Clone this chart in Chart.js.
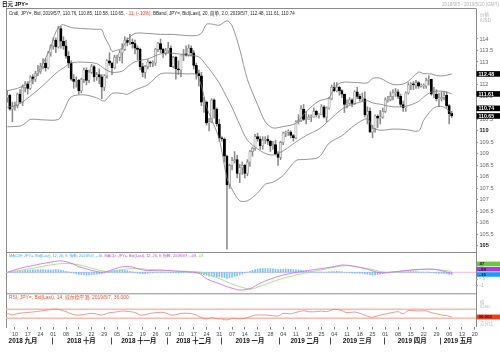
<!DOCTYPE html>
<html><head><meta charset="utf-8">
<script src="https://cdn.jsdelivr.net/npm/chart.js@4.4.1/dist/chart.umd.min.js"></script>
<style>
html,body{margin:0;padding:0;background:#fff;}
#wrap{position:relative;width:500px;height:352px;overflow:hidden;background:#fff;}
canvas{position:absolute;left:0;top:0;}
</style></head>
<body><div id="wrap">
<canvas id="cMain" width="500" height="352"></canvas>
<canvas id="cMacd" width="500" height="352"></canvas>
<canvas id="cRsi" width="500" height="352"></canvas>
</div>
<script>
// ---------------- DATA ----------------
const startDate = '2018-09-05', endDate = '2019-05-20';
function weekdays(a, b) {
  const out = []; let d = new Date(a + 'T00:00:00Z'); const e = new Date(b + 'T00:00:00Z');
  while (d <= e) { const w = d.getUTCDay(); if (w > 0 && w < 6) out.push(d.toISOString().slice(0, 10)); d = new Date(d.getTime() + 86400000); }
  return out;
}
const categories = weekdays(startDate, endDate);

const opens = [111.45,111.55,110.95,111.05,111.10,111.60,111.25,111.90,112.05,111.85,
112.35,112.25,112.50,112.60,112.80,112.95,112.75,113.40,113.70,113.95,
113.65,114.45,113.90,113.70,113.25,112.95,112.25,112.15,112.20,111.75,
112.25,112.65,112.20,112.55,112.80,112.35,112.45,112.35,111.90,112.40,
113.05,112.95,112.75,113.20,113.20,113.40,113.55,113.95,113.85,113.85,
113.80,113.60,113.55,112.80,112.55,112.80,113.00,112.95,112.95,113.55,
113.80,113.55,113.40,113.50,113.60,112.80,113.20,112.70,112.65,113.30,
113.35,113.30,113.60,113.40,112.85,112.50,112.40,111.25,111.25,110.35,
110.40,111.35,110.95,110.30,109.70,109.65,108.90,107.65,108.50,108.70,
108.75,108.15,108.40,108.50,108.15,108.65,109.10,109.25,109.75,109.65,
109.35,109.60,109.65,109.55,109.35,109.40,109.00,108.85,109.50,109.90,
109.95,109.95,109.80,109.70,110.40,110.45,110.95,110.50,110.50,110.60,
110.60,110.85,110.70,110.70,111.05,110.60,111.00,111.40,111.90,111.75,
111.90,111.75,111.60,111.15,111.20,111.35,111.20,111.70,111.50,111.40,
111.40,110.70,110.85,109.95,110.10,110.65,110.55,110.60,110.85,111.35,
111.35,111.50,111.65,111.70,111.50,111.15,111.00,111.65,112.00,112.05,
112.00,112.10,111.95,111.95,111.95,112.20,112.25,111.60,111.60,111.40,
111.40,111.45,111.55,111.10,110.76];
const highs = [111.75,111.60,111.25,111.25,111.65,111.80,112.00,112.15,112.15,112.40,
112.45,112.60,112.85,112.95,113.15,113.15,113.45,113.75,114.05,114.05,
114.55,114.55,114.10,113.95,113.45,113.05,112.45,112.35,112.25,112.30,
112.75,112.75,112.65,112.90,112.85,112.55,112.70,112.45,112.45,113.10,
113.40,113.00,113.30,113.30,113.50,113.80,114.10,114.05,114.20,114.00,
113.95,113.70,113.60,112.95,112.85,113.10,113.05,113.05,113.60,113.85,
114.00,113.60,113.60,113.85,113.70,113.25,113.25,113.05,113.30,113.55,
113.70,113.75,113.70,113.50,112.95,112.65,112.55,111.45,111.30,110.55,
111.40,111.40,111.00,110.50,109.75,109.70,108.95,108.55,108.85,109.10,
108.95,108.55,108.65,108.55,108.75,109.15,109.30,109.85,109.90,109.75,
109.75,109.75,109.80,109.60,109.55,109.60,109.10,109.55,109.95,110.00,
110.05,110.00,109.85,110.45,110.70,111.10,111.15,110.85,110.70,110.70,
111.00,110.90,110.75,111.15,111.10,111.05,111.45,112.00,112.10,112.10,
111.95,111.80,111.60,111.35,111.45,111.40,111.75,111.90,111.60,111.65,
111.70,111.05,111.00,110.25,110.70,110.70,110.90,111.00,111.45,111.50,
111.70,111.80,111.85,111.80,111.60,111.30,111.70,112.10,112.10,112.15,
112.20,112.15,112.05,112.05,112.30,112.40,112.25,111.90,111.80,111.65,
111.70,111.70,111.70,111.15,110.85];
const lows = [111.25,110.90,110.40,110.90,111.00,111.20,111.10,111.70,111.60,111.80,
112.05,112.15,112.40,112.50,112.70,112.60,112.70,113.25,113.55,113.40,
113.60,113.60,113.55,113.15,112.75,112.20,111.85,111.90,111.60,111.65,
112.10,112.00,112.10,112.50,112.15,112.20,112.05,111.40,111.75,112.30,
112.85,112.45,112.70,112.95,113.05,112.95,113.50,113.70,113.75,113.60,
113.35,113.10,112.65,112.35,112.30,112.70,112.80,112.80,112.85,113.45,
113.40,113.20,113.30,113.40,112.80,112.75,112.25,112.45,112.35,113.05,
113.25,113.25,113.25,112.70,112.25,111.95,111.10,110.80,110.25,110.00,
110.35,110.55,110.20,109.55,109.55,108.65,104.85,107.50,108.30,108.60,
107.95,107.75,108.10,107.95,108.05,108.45,108.90,109.15,109.55,109.20,
109.20,109.45,109.40,109.10,109.20,108.95,108.50,108.75,109.40,109.75,
109.80,109.70,109.55,109.65,110.30,110.40,110.45,110.30,110.50,110.40,
110.60,110.60,110.55,110.70,110.55,110.40,110.95,111.35,111.70,111.70,
111.55,111.45,110.80,111.00,111.15,111.05,111.15,111.40,111.30,111.30,
110.60,110.30,109.95,109.70,109.95,110.15,110.30,110.55,110.80,111.25,
111.30,111.35,111.50,111.40,111.05,110.85,110.85,111.60,111.80,111.80,
111.85,111.85,111.90,111.85,111.85,112.00,111.55,111.45,111.30,111.05,
111.30,111.35,111.00,110.30,110.58];
const closes = [111.55,110.95,111.05,111.10,111.60,111.25,111.90,112.05,111.85,112.35,
112.25,112.50,112.60,112.80,112.95,112.75,113.40,113.70,113.95,113.65,
114.45,113.90,113.70,113.25,112.95,112.25,112.15,112.20,111.75,112.25,
112.65,112.20,112.55,112.80,112.35,112.45,112.35,111.90,112.40,113.05,
112.95,112.75,113.20,113.20,113.40,113.55,113.95,113.85,113.85,113.80,
113.60,113.55,112.80,112.55,112.80,113.00,112.95,112.95,113.55,113.80,
113.55,113.40,113.50,113.60,112.80,113.20,112.70,112.65,113.30,113.35,
113.30,113.60,113.40,112.85,112.50,112.40,111.25,111.25,110.35,110.40,
111.35,110.95,110.30,109.70,109.65,108.90,107.65,108.50,108.70,108.75,
108.15,108.40,108.50,108.15,108.65,109.10,109.25,109.75,109.65,109.35,
109.60,109.65,109.55,109.35,109.40,109.00,108.85,109.50,109.90,109.95,
109.95,109.80,109.70,110.40,110.45,110.95,110.50,110.50,110.60,110.60,
110.85,110.70,110.70,111.05,110.60,111.00,111.40,111.90,111.75,111.90,
111.75,111.60,111.15,111.20,111.35,111.20,111.70,111.50,111.40,111.40,
110.70,110.85,109.95,110.10,110.65,110.55,110.60,110.85,111.35,111.35,
111.50,111.65,111.70,111.50,111.15,111.00,111.65,112.00,112.05,112.00,
112.10,111.95,111.95,111.95,112.20,112.25,111.60,111.60,111.40,111.40,
111.45,111.55,111.10,110.75,110.65];

// Bollinger band readings [day index, value]
const bbUpper = [[0,111.75],[4,111.85],[8,112.07],[12,112.5],[14,112.94],[17,113.65],[19,114.3],[21,114.6],[22,114.62],[25,114.5],[30,114.45],[35,114.42],[37,114.4],[38,114.12],[40,113.7],[41,113.47],[43,113.52],[45,113.6],[47,113.97],[50,114.24],[55,114.24],[60,114.2],[65,114.2],[70,114.15],[74,114.15],[76,114.25],[78,114.64],[80,114.65],[83,114.6],[86,114.79],[88,114.58],[91,113.55],[94,112.24],[98,111.14],[101,110.4],[104,110.13],[108,110.19],[113,110.33],[117,110.84],[122,111.3],[126,111.45],[128,111.9],[131,112.11],[136,112.11],[141,112.09],[143,112.29],[146,112.29],[151,112.02],[156,112.08],[161,112.56],[163,112.49],[166,112.48],[168,112.41],[171,112.4],[174,112.48]];
const bbMiddle = [[0,111.03],[4,111.13],[10,111.6],[14,111.98],[17,112.3],[20,112.6],[22,112.74],[25,112.96],[30,112.99],[35,112.93],[38,112.71],[41,112.55],[45,112.6],[47,112.78],[50,113.01],[55,113.13],[60,113.35],[65,113.38],[70,113.3],[75,113.22],[78,112.84],[80,112.56],[83,112.08],[86,111.45],[88,111.02],[91,110.27],[94,109.6],[98,109.22],[101,109.02],[104,108.95],[108,109.13],[113,109.52],[117,109.8],[122,110.08],[126,110.46],[131,110.95],[136,111.18],[141,111.31],[143,111.22],[146,111.16],[151,111.05],[156,111.07],[161,111.28],[163,111.48],[166,111.69],[168,111.73],[171,111.72],[174,111.61]];
const bbLower = [[0,110.18],[5,110.21],[7,110.33],[9,110.5],[14,110.48],[20,110.5],[22,110.86],[25,111.48],[30,111.57],[35,111.44],[38,111.3],[41,111.63],[45,111.63],[47,111.59],[50,111.78],[55,112.01],[60,112.48],[65,112.51],[70,112.48],[74,112.45],[76,111.96],[78,111.05],[80,110.5],[83,109.64],[86,107.95],[88,107.46],[91,106.96],[94,106.96],[98,107.3],[101,107.68],[104,107.77],[108,108.06],[113,108.71],[117,108.76],[122,108.86],[126,109.47],[131,109.79],[136,110.25],[141,110.53],[143,110.15],[146,110.03],[151,110.08],[156,110.06],[161,110.0],[163,110.46],[166,110.9],[168,111.05],[171,111.04],[174,110.74]];

// MACD readings
const macdLine = [[0,0],[5,0.3],[10,0.5],[13,0.62],[17,0.75],[20,0.84],[23,0.79],[26,0.6],[28,0.42],[31,0.25],[34,0.1],[37,0.0],[40,0.12],[44,0.37],[48,0.42],[52,0.22],[55,0.12],[60,0.17],[65,0.1],[70,0.05],[75,-0.06],[76,-0.18],[78,-0.48],[82,-0.77],[86,-1.06],[88,-1.18],[91,-1.31],[95,-1.22],[98,-0.9],[102,-0.57],[108,-0.2],[115,0.05],[121,0.22],[128,0.42],[131,0.54],[135,0.47],[141,0.22],[146,-0.03],[152,0.05],[158,0.17],[165,0.24],[169,0.17],[174,-0.09]];
const macdSignal = [[0,0],[5,0.15],[10,0.29],[17,0.55],[23,0.66],[26,0.62],[30,0.47],[36,0.15],[41,0.05],[45,0.2],[49,0.29],[55,0.22],[62,0.12],[70,0.07],[76,0.0],[81,-0.32],[85,-0.62],[89,-0.94],[95,-1.24],[98,-1.1],[102,-0.82],[108,-0.44],[116,-0.08],[124,0.22],[131,0.48],[135,0.47],[142,0.24],[148,0.0],[153,0.05],[161,0.2],[167,0.22],[174,0.07]];
const macdHist = [0,.02,.04,.06, .08,.1,.12,.14,.16,.17,.18, .19,.2,.2,.2,.19,.18,.18,.19,.2,.2,
.16,.12,.08,.03,-.02, -.07,-.12,-.16,-.18,-.2,-.21,-.2, -.18,-.16,-.14,-.12,-.1,
-.04,.02,.07,.12,.15,.17, .18,.17,.15,.12,.08, .03,-.02,-.06,-.09,-.11,-.1,-.08,
-.05,-.02,.01,.03,.04,.03,.02, 0,-.02,-.02,-.03,-.04,-.03,-.02,-.01,0,0,-.02,-.05,-.06,
-.12,-.18,-.24,-.28,-.28,-.3,-.32,-.35,-.36,-.38,-.45,-.42,-.36,-.3,-.25,-.2,-.12,
-.05,.02,.08,.14,.2,.24,.27,.28, .28,.28,.27,.26,.24,.22,.22,.23,.24,.24,
.22,.2,.2,.18,.16,.13,.1,.07,.05,.03, .02,.01,.01,0,.02,.04,.06,.06,.07,.06,.04,
0,-.03,-.05,-.06,-.06,-.07,-.08,-.09,-.12,-.14,-.18,-.2,-.19,-.17,-.14,
-.1,-.06,-.02,.02,.04,.06,.06,.05,.03,.03,.05,.06,.06,.05,
.03,.02,.02,.02,.02,-.02,-.04,-.06,-.08,-.09,-.1,-.12,-.15,-.16];

// RSI readings
const rsiValues = [[0,52],[2,45],[4,51],[7,55],[10,58],[13,62.5],[16,67],[19,71],[21,67],[23,59.5],[25,50],[27,44.7],[28,44],[31,49],[33,52],[35,49],[37,44.7],[40,55],[42,57],[45,62.5],[48,59.5],[50,56],[52,44.7],[54,46],[56,52],[60,56.6],[62,54],[64,44.7],[66,46],[68,52],[72,51],[74,44],[76,33],[78,27],[80,33],[82,28],[84,27],[86,22.5],[88,30],[90,28],[93,30],[95,37.3],[97,44],[100,44.7],[103,43],[106,40.3],[108,52],[111,50],[113,56],[116,64],[118,59],[121,59.5],[123,62],[125,59.5],[128,70],[131,64],[133,55],[136,58],[138,52],[140,44],[142,35],[144,37.3],[146,44],[148,49],[151,56],[153,59.5],[155,50],[157,64],[161,62.5],[164,63],[166,55],[168,50],[170,44.7],[172,42],[174,36]];
const rsiLevels = [70, 30];

const priceTicks = [114,113.5,113,112.5,112,111.5,111,110.5,110,109.5,109,108.5,108,107.5,107,106.5,106,105.5,105];
const macdTicks = [0.5,-0.5,-1];
const monthLabels = ['2018 九月','2018 十月','2018 十一月','2018 十二月','2019 一月','2019 二月','2019 三月','2019 四月','2019 五月'];
const priceBoxValues = [112.48, 111.61, 110.74, 110.65];
const macdBoxValues = [0.07, -0.09, -0.16];
const rsiBoxValue = 36.0;

// ---------------- HELPERS ----------------
const FONT = '"Liberation Sans","Noto Sans CJK SC",sans-serif';
Chart.defaults.font.family = FONT;
const toPts = arr => arr.map(([k, v]) => ({x: categories[k], y: v}));
const isUp = i => closes[i] >= opens[i];

function txt(ctx, s, x, y, size, color, opt) {
  opt = opt || {};
  ctx.font = (opt.bold ? 'bold ' : '') + size + 'px ' + FONT;
  ctx.fillStyle = color; ctx.textAlign = opt.align || 'left'; ctx.textBaseline = 'middle';
  ctx.fillText(s, x, y);
  return ctx.measureText(s).width;
}
function fitSegs(ctx, list, x, y, targetW, base) {
  ctx.font = base + 'px ' + FONT;
  let w = 0; list.forEach(([s]) => w += ctx.measureText(s).width);
  const size = base * targetW / w;
  list.forEach(([s, c]) => { x += txt(ctx, s, x, y, size, c); });
}
function line(ctx, x1, y1, x2, y2, color, w) {
  ctx.save(); ctx.strokeStyle = color; ctx.lineWidth = w || 1;
  ctx.beginPath(); ctx.moveTo(x1, y1); ctx.lineTo(x2, y2); ctx.stroke(); ctx.restore();
}
function drawBoxes(ctx, scale, items, x1, x2, h, gap) {
  const pos = items.map(it => ({...it, y: scale.getPixelForValue(it.v)}));
  pos.sort((a, b) => b.y - a.y);
  for (let i = 1; i < pos.length; i++) pos[i].y = Math.min(pos[i].y, pos[i - 1].y - gap);
  pos.forEach(p => {
    ctx.fillStyle = p.bg; ctx.fillRect(x1, p.y - h / 2, x2 - x1, h);
    txt(ctx, p.text, x1 + 2, p.y + 0.3, p.size, p.fg, {bold: true});
  });
}
const BORDER = '#8c8c8c';

// ---------------- MAIN PRICE PANEL ----------------
const mainDeco = {
  id: 'mainDeco',
  afterDraw(chart) {
    const ctx = chart.ctx, a = chart.chartArea, y = chart.scales.y;
    line(ctx, a.left, 8.5, a.right, 8.5, BORDER);
    line(ctx, a.left + 0.5, 8.5, a.left + 0.5, 328, BORDER);
    line(ctx, a.right + 0.5, 8.5, a.right + 0.5, 327, BORDER);
    line(ctx, a.left, a.bottom + 0.5, a.right, a.bottom + 0.5, BORDER);
    txt(ctx, '日元 JPY=', 2, 4.5, 5.5, '#000', {bold: true});
    txt(ctx, '2018/9/5 - 2019/5/20 (GMT)', 499, 4.5, 4.6, '#b0b0b0', {align: 'right'});
    fitSegs(ctx, [
      ['Cndl, JPY=, Bid, 2019/5/7, 110.76, 110.85, 110.58, 110.65, ', '#222'],
      ['-.11, (-.10%), ', '#e8321e'],
      ['BBand, JPY=, Bid(Last), 20, 简单, 2.0, 2019/5/7, 112.48, 111.61, 110.74', '#222']
    ], 9, 14, 286, 5);
    txt(ctx, '价格', 480, 15, 4.6, '#b0b0b0');
    txt(ctx, '/USD', 480, 21, 4.6, '#b0b0b0');
    drawBoxes(ctx, y, priceBoxValues.map(v => ({v, text: v.toFixed(2), bg: '#000', fg: '#fff', size: 5.2})), a.right + 0.5, 500, 5.6, 7.6);
  }
};

new Chart(document.getElementById('cMain'), {
  type: 'bar',
  data: {
    labels: categories,
    datasets: [
      {type: 'line', label: 'BB上', data: toPts(bbUpper), borderColor: '#7a7a7a', borderWidth: 0.8, pointRadius: 0, tension: 0.3, order: 0},
      {type: 'line', label: 'BB中', data: toPts(bbMiddle), borderColor: '#7a7a7a', borderWidth: 0.8, pointRadius: 0, tension: 0.3, order: 0},
      {type: 'line', label: 'BB下', data: toPts(bbLower), borderColor: '#7a7a7a', borderWidth: 0.8, pointRadius: 0, tension: 0.3, order: 0},
      {label: 'wick', data: lows.map((l, i) => [l, highs[i]]), backgroundColor: '#8a8a8a', barThickness: 0.9, grouped: false, order: 3},
      {label: 'body', data: opens.map((o, i) => [o, closes[i]]), grouped: false, order: 2, barThickness: 2.3, minBarLength: 0.8, borderSkipped: false,
        backgroundColor: c => isUp(c.dataIndex) ? '#e6e6e6' : '#000',
        borderColor: c => isUp(c.dataIndex) ? '#8c8c8c' : '#000', borderWidth: 0.6}
    ]
  },
  options: {
    responsive: false, animation: false, devicePixelRatio: 1,
    layout: {padding: {left: 6, top: 9, bottom: 100, right: 0}},
    plugins: {legend: {display: false}, tooltip: {enabled: false}},
    scales: {
      x: {display: false, offset: true},
      y: {
        position: 'right', min: 104.731, max: 115.305,
        afterFit(s) { s.width = 24; },
        afterBuildTicks(s) { s.ticks = priceTicks.map(v => ({value: v})); },
        ticks: {
          padding: 1.5,
          callback: v => Number.isInteger(v) ? String(v) : v.toFixed(1),
          font: c => ({size: 5.6, family: FONT, weight: (c.tick && c.tick.value % 5 === 0) ? 'bold' : 'normal'}),
          color: c => (c.tick && c.tick.value % 5 === 0) ? '#111' : '#666'
        },
        grid: {drawOnChartArea: false, drawTicks: true, tickLength: 2, color: '#999'},
        border: {display: false}
      }
    }
  },
  plugins: [mainDeco]
});

// ---------------- MACD PANEL ----------------
const macdDeco = {
  id: 'macdDeco',
  beforeDatasetsDraw(chart) {
    const a = chart.chartArea, y0 = chart.scales.y.getPixelForValue(0);
    line(chart.ctx, a.left, y0, a.right, y0, '#efb8f4', 1);
  },
  afterDraw(chart) {
    const ctx = chart.ctx, a = chart.chartArea;
    line(ctx, a.left, a.bottom + 0.3, a.right, a.bottom + 0.3, BORDER);
    fitSegs(ctx, [
      ['MACDF, JPY=, Bid(Last), 12, 26, 9, 指数, 2019/5/7, -.16, ', '#3fa6f2'],
      ['MACD, JPY=, Bid(Last), 12, 26, 9, 指数, 2019/5/7, -.09, ', '#b84ce0'],
      ['.07', '#78c040']
    ], 9, 255.5, 195, 5);
    const cols = ['#6cc83a', '#a83ae8', '#1e9cf5'];
    drawBoxes(ctx, chart.scales.y, macdBoxValues.map((v, i) => ({v, text: String(v).replace('0.', '.'), bg: cols[i], fg: '#111', size: 4.2})), a.right + 0.5, 500, 4.6, 5.3);
  }
};

new Chart(document.getElementById('cMacd'), {
  type: 'bar',
  data: {
    labels: categories,
    datasets: [
      {type: 'line', label: 'MACD', data: toPts(macdLine), borderColor: '#d173f2', borderWidth: 0.9, pointRadius: 0, tension: 0.35, order: 0},
      {type: 'line', label: 'Signal', data: toPts(macdSignal), borderColor: '#a5e07a', borderWidth: 0.9, pointRadius: 0, tension: 0.35, order: 1},
      {label: 'MACDF', data: macdHist, backgroundColor: '#77c0fb', barThickness: 0.9, grouped: false, order: 2}
    ]
  },
  options: {
    responsive: false, animation: false, devicePixelRatio: 1,
    layout: {padding: {left: 6, top: 252, bottom: 58.5, right: 0}},
    plugins: {legend: {display: false}, tooltip: {enabled: false}},
    scales: {
      x: {display: false, offset: true},
      y: {
        position: 'right', min: -1.57, max: 1.504,
        afterFit(s) { s.width = 24; },
        afterBuildTicks(s) { s.ticks = macdTicks.map(v => ({value: v})); },
        ticks: {padding: 1.5, callback: v => String(v).replace('0.', '.'), font: {size: 4.8, family: FONT}, color: '#aaa'},
        grid: {drawOnChartArea: false, drawTicks: true, tickLength: 2, color: '#aaa'},
        border: {display: false}
      }
    }
  },
  plugins: [macdDeco]
});

// ---------------- RSI PANEL + X AXIS ----------------
const rsiDeco = {
  id: 'rsiDeco',
  beforeDatasetsDraw(chart) {
    const a = chart.chartArea, ys = chart.scales.y;
    rsiLevels.forEach(l => { const p = ys.getPixelForValue(l); line(chart.ctx, a.left, p, a.right, p, '#f9b9ab', 1.6); });
  },
  afterDraw(chart) {
    const ctx = chart.ctx, a = chart.chartArea, xs = chart.scales.x;
    fitSegs(ctx, [['RSI, JPY=, Bid(Last), 14, 威尔德平滑, 2019/5/7, 36.000', '#f2502e']], 9, 297.3, 120, 5);
    txt(ctx, '值', 480, 302.5, 4.4, '#b8b8b8');
    txt(ctx, '/USD', 480, 306.8, 4.4, '#b8b8b8');
    txt(ctx, '百分比', 480, 324, 4.4, '#b8b8b8');
    drawBoxes(ctx, chart.scales.y, [{v: rsiBoxValue, text: rsiBoxValue.toFixed(3), bg: '#ee3b1c', fg: '#3a0a00', size: 4.4}], a.right + 0.5, 500, 4.8, 5);
    // month labels
    const band = (a.right - a.left) / categories.length;
    const seps = [];
    for (let k = 1; k < categories.length; k++) {
      if (categories[k].slice(0, 7) !== categories[k - 1].slice(0, 7)) seps.push(xs.getPixelForValue(k) - band / 2);
    }
    const edges = [a.left].concat(seps).concat([a.right]);
    seps.forEach(sx => line(ctx, Math.round(sx) + 0.5, 337.5, Math.round(sx) + 0.5, 344.5, '#333', 0.9));
    monthLabels.forEach((m, i) => {
      if (i + 1 >= edges.length) return;
      let cx = (edges[i] + edges[i + 1]) / 2;
      if (i === 0) cx -= 6;
      txt(ctx, m, cx, 341.2, 6.4, '#111', {bold: true, align: 'center'});
    });
  }
};

new Chart(document.getElementById('cRsi'), {
  type: 'line',
  data: {
    labels: categories,
    datasets: [
      {label: 'RSI', data: toPts(rsiValues), borderColor: '#f07e6c', borderWidth: 0.8, pointRadius: 0, tension: 0.3}
    ]
  },
  options: {
    responsive: false, animation: false, devicePixelRatio: 1,
    layout: {padding: {left: 6, top: 293.5, bottom: 0, right: 0}},
    plugins: {legend: {display: false}, tooltip: {enabled: false}},
    scales: {
      x: {
        offset: true,
        afterFit(s) { s.height = 25; },
        ticks: {
          autoSkip: false, maxRotation: 0, minRotation: 0, padding: 1.5,
          font: {size: 5.4, family: FONT}, color: '#444',
          callback(value) {
            const s = categories[value];
            return new Date(s + 'T00:00:00Z').getUTCDay() === 1 ? s.slice(8, 10) : null;
          }
        },
        grid: {drawOnChartArea: false, drawTicks: true, tickLength: 2.5, color: '#777', offset: false},
        border: {display: false}
      },
      y: {
        position: 'right', min: -8.67, max: 140.2,
        afterFit(s) { s.width = 24; },
        ticks: {display: false},
        grid: {display: false},
        border: {display: false}
      }
    }
  },
  plugins: [rsiDeco]
});
</script>
</body></html>
